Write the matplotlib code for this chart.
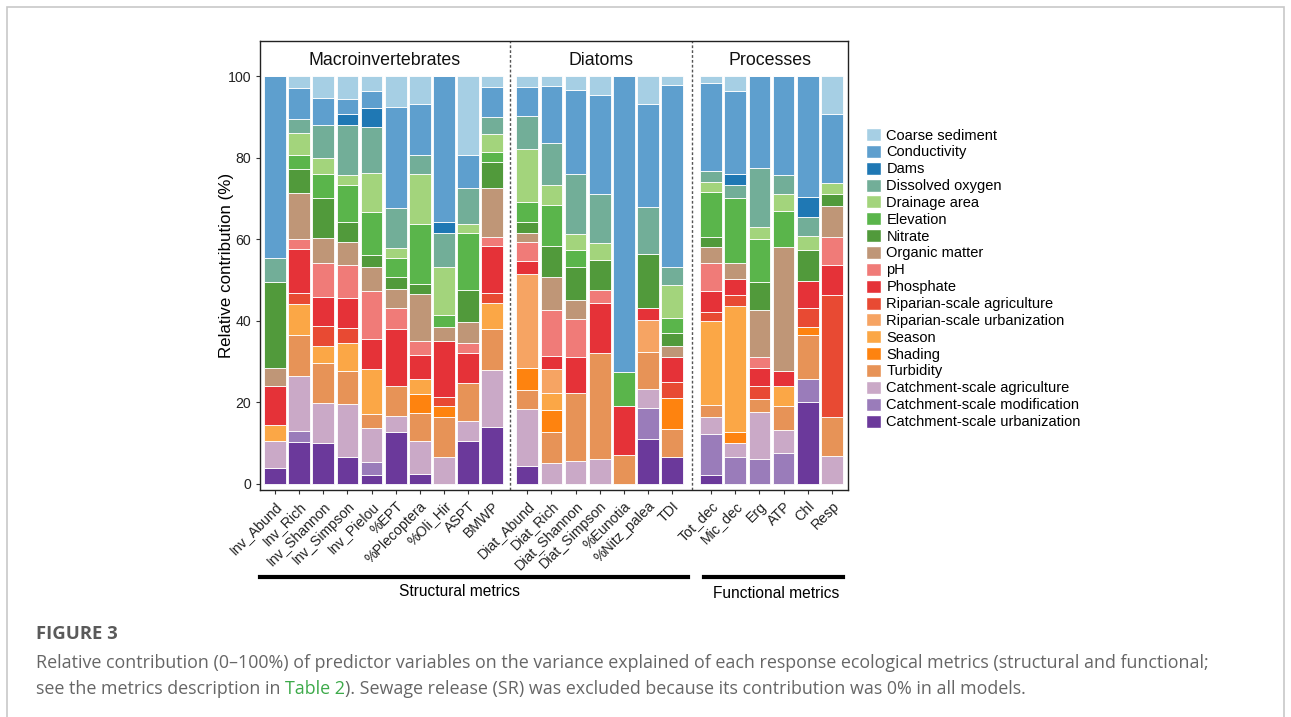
import numpy as np
import matplotlib
matplotlib.use("Agg")
import matplotlib.pyplot as plt
from matplotlib.patches import Patch, Rectangle
from matplotlib.lines import Line2D

plt.rcParams['font.family'] = ['Liberation Sans', 'DejaVu Sans']

# metrics (x categories)
inv_metrics = ["Inv_Abund", "Inv_Rich", "Inv_Shannon", "Inv_Simpson", "Inv_Pielou",
               "%EPT", "%Plecoptera", "%Oli_Hir", "ASPT", "BMWP"]
diat_metrics = ["Diat_Abund", "Diat_Rich", "Diat_Shannon", "Diat_Simpson",
                "%Eunotia", "%Nitz_palea", "TDI"]
proc_metrics = ["Tot_dec", "Mic_dec", "Erg", "ATP", "Chl", "Resp"]
groups = ["Macroinvertebrates", "Diatoms", "Processes"]

# relative contribution (%) of each predictor, stacked bottom -> top
catch_urban = [4.0, 10.2, 10.1, 6.5, 2.2, 12.6, 2.4, 0, 10.6, 13.9,
               4.4, 0, 0, 0, 0, 10.9, 6.7,
               2.2, 0, 0, 0, 20.2, 0]
catch_mod = [0, 2.8, 0, 0, 3.2, 0, 0, 0, 0, 0,
             0, 0, 0, 0, 0, 7.8, 0,
             10.1, 6.5, 6.0, 7.5, 5.5, 0]
catch_agri = [6.5, 13.5, 9.8, 13.0, 8.4, 4.1, 8.2, 6.7, 4.9, 14.0,
              13.9, 5.1, 5.5, 6.0, 0, 4.6, 0,
              4.0, 3.5, 11.6, 5.7, 0, 6.9]
turbidity = [0, 10.0, 9.8, 8.2, 3.4, 7.2, 6.9, 9.6, 9.3, 10.1,
             4.7, 7.5, 16.7, 26.2, 7.1, 9.0, 6.8,
             3.1, 0, 3.2, 5.9, 10.7, 9.4]
shading = [0, 0, 0, 0, 0, 0, 4.6, 2.9, 0, 0,
           5.5, 5.4, 0, 0, 0, 0, 7.5,
           0, 2.6, 0, 0, 2.1, 0]
season = [4.0, 7.5, 4.0, 6.9, 11.0, 0, 3.6, 0, 0, 6.3,
          0, 4.2, 0, 0, 0, 0, 0,
          20.6, 30.9, 0, 4.8, 0, 0]
rip_urban = [0, 0, 0, 0, 0, 0, 0, 0, 0, 0,
             23.0, 5.9, 0, 0, 0, 7.9, 0,
             0, 0, 0, 0, 0, 0]
rip_agri = [0, 2.9, 4.9, 3.7, 0, 0, 0, 2.0, 0, 2.6,
            0, 0, 0, 0, 0, 0, 3.9,
            2.2, 2.8, 3.1, 0, 4.6, 30.0]
phosphate = [9.6, 10.6, 7.2, 7.2, 7.3, 14.1, 5.8, 13.9, 7.2, 11.5,
             3.2, 3.3, 8.8, 12.2, 12.0, 2.9, 6.3,
             5.1, 3.9, 4.6, 3.8, 6.7, 7.4]
ph = [0, 2.5, 8.4, 8.1, 11.8, 5.2, 3.5, 0, 2.5, 2.1,
      4.5, 11.2, 9.4, 3.1, 0, 0, 0,
      6.8, 0, 2.5, 0, 0, 6.9]
organic = [4.4, 11.3, 6.2, 5.8, 6.0, 4.7, 11.5, 3.3, 5.3, 12.0,
           2.4, 8.1, 4.7, 0, 0, 0, 2.5,
           3.9, 3.9, 11.6, 30.3, 0, 7.5]
nitrate = [21.1, 6.0, 9.8, 4.8, 2.8, 2.8, 2.5, 0, 7.7, 6.5,
           2.5, 7.7, 8.2, 7.4, 0, 13.3, 3.2,
           2.6, 0, 6.8, 0, 7.6, 2.9]
elevation = [0, 3.4, 5.8, 9.1, 10.5, 4.8, 14.7, 3.0, 14.1, 2.4,
             4.9, 10.0, 4.1, 0, 8.4, 0, 3.7,
             10.9, 16.1, 10.6, 9.0, 0, 0]
drainage = [0, 5.4, 3.8, 2.4, 9.7, 2.3, 12.3, 11.9, 2.2, 4.4,
            13.2, 4.9, 3.9, 4.1, 0, 0, 8.2,
            2.6, 0, 2.9, 4.1, 3.4, 2.7]
oxygen = [5.9, 3.4, 8.2, 12.3, 11.1, 9.9, 4.6, 8.1, 8.7, 4.1,
          8.0, 10.2, 14.8, 12.2, 0, 11.6, 4.5,
          2.7, 3.1, 14.5, 4.6, 4.7, 0]
dams = [0, 0, 0, 2.8, 4.7, 0, 0, 2.7, 0, 0,
        0, 0, 0, 0, 0, 0, 0,
        0, 2.8, 0, 0, 4.9, 0]
conductivity = [44.5, 7.6, 6.7, 3.7, 4.3, 24.6, 12.5, 35.9, 8.1, 7.5,
                7.0, 14.0, 20.5, 24.1, 72.5, 25.1, 44.5,
                21.4, 20.2, 22.6, 24.3, 29.6, 17.0]
coarse = [0, 2.9, 5.3, 5.5, 3.6, 7.7, 6.9, 0, 19.4, 2.6,
          2.8, 2.5, 3.4, 4.7, 0, 6.9, 2.2,
          1.8, 3.7, 0, 0, 0, 9.3]

# stacking order (bottom first) with labels and colours
layers = [
    ("Catchment-scale urbanization", catch_urban, "#6b399b"),
    ("Catchment-scale modification", catch_mod, "#9a7cba"),
    ("Catchment-scale agriculture", catch_agri, "#caa9c7"),
    ("Turbidity", turbidity, "#e79357"),
    ("Shading", shading, "#fe830f"),
    ("Season", season, "#fba746"),
    ("Riparian-scale urbanization", rip_urban, "#f6a463"),
    ("Riparian-scale agriculture", rip_agri, "#e84a33"),
    ("Phosphate", phosphate, "#e53238"),
    ("pH", ph, "#f07b78"),
    ("Organic matter", organic, "#bf9677"),
    ("Nitrate", nitrate, "#519a3b"),
    ("Elevation", elevation, "#5ab54b"),
    ("Drainage area", drainage, "#a3d47c"),
    ("Dissolved oxygen", oxygen, "#72ae98"),
    ("Dams", dams, "#1f78b4"),
    ("Conductivity", conductivity, "#5e9fce"),
    ("Coarse sediment", coarse, "#a6cfe4"),
]

W, H = 1291, 717
fig = plt.figure(figsize=(W / 100, H / 100), dpi=100)

def fx(px):
    return px / W

def fy(py):
    return 1 - py / H

# page frame
fig.add_artist(Rectangle((fx(7), -0.1), fx(1277), fy(7) + 0.1, transform=fig.transFigure,
                         fill=False, edgecolor="#c8c8c8", lw=1.2))

ax = fig.add_axes([fx(260), fy(490), fx(848 - 260), fy(41) - fy(490)])

# x positions: groups separated by a small extra gap
pos_inv = np.arange(len(inv_metrics))
pos_dia = pos_inv[-1] + 1.45 + np.arange(len(diat_metrics))
pos_pro = pos_dia[-1] + 1.61 + np.arange(len(proc_metrics))
xpos = np.concatenate([pos_inv, pos_dia, pos_pro])
labels = inv_metrics + diat_metrics + proc_metrics

bottom = np.zeros(len(xpos))
for name, vals, col in layers:
    v = np.array(vals, dtype=float)
    ax.bar(xpos, v, bottom=bottom, width=0.9, color=col, edgecolor="white", lw=0.6)
    bottom += v

ax.set_xlim(-0.62, pos_pro[-1] + 0.67)
ax.set_ylim(-1.5, 108.6)

sep1 = (pos_inv[-1] + pos_dia[0]) / 2
sep2 = (pos_dia[-1] + pos_pro[0]) / 2
for s in (sep1, sep2):
    ax.axvline(s, color="#555555", lw=1.0, ls=(0, (2, 1.5)))

centers = [(ax.get_xlim()[0] + sep1) / 2, (sep1 + sep2) / 2, (sep2 + ax.get_xlim()[1]) / 2]
for c, g in zip(centers, groups):
    ax.text(c, 103.8, g, ha="center", va="center", fontsize=12.8, color="#111111")

ax.set_yticks([0, 20, 40, 60, 80, 100])
ax.tick_params(axis="y", labelsize=10.2, length=3, color="#333333", labelcolor="#222222")
ax.set_xticks(xpos)
ax.set_xticklabels(labels, rotation=45, ha="right", rotation_mode="anchor", fontsize=10.2,
                   color="#222222")
ax.tick_params(axis="x", length=3, color="#333333")
ax.set_ylabel("Relative contribution (%)", fontsize=12.2, labelpad=-5)
for sp in ax.spines.values():
    sp.set_color("#222222")
    sp.set_linewidth(1.0)

# legend, top entry first
handles = [Patch(facecolor=col, edgecolor="white", label=name) for name, _, col in layers[::-1]]
fig.legend(handles=handles, loc="upper left", bbox_to_anchor=(fx(866), fy(128)), frameon=False,
           fontsize=10.5, handlelength=1.05, handleheight=1.0, labelspacing=0.16,
           handletextpad=0.35, borderaxespad=0, borderpad=0)

# group bars under the axis
fig.add_artist(Line2D([fx(260), fx(688)], [fy(577), fy(577)], color="black", lw=3,
                      transform=fig.transFigure))
fig.add_artist(Line2D([fx(704), fx(843)], [fy(577), fy(577)], color="black", lw=3,
                      transform=fig.transFigure))
fig.text(fx(459), fy(592), "Structural metrics", ha="center", va="center", fontsize=11.2)
fig.text(fx(776), fy(593), "Functional metrics", ha="center", va="center", fontsize=11.2)

# caption
cap_font = ["Open Sans", "DejaVu Sans"]
cap_size = 12.9
cap_x = fx(36)
fig.text(cap_x, fy(634), "FIGURE 3", ha="left", va="center", fontsize=13.3, fontweight="bold",
         color="#5a5a5a", family=cap_font)
line1 = ("Relative contribution (0\u2013100%) of predictor variables on the variance explained of "
         "each response ecological metrics (structural and functional;")
fig.text(cap_x, fy(663), line1, ha="left", va="center", fontsize=cap_size, color="#666666",
         family=cap_font)
t1 = fig.text(cap_x, fy(689), "see the metrics description in ", ha="left", va="center",
              fontsize=cap_size, color="#666666", family=cap_font)
fig.canvas.draw()
bb = t1.get_window_extent()
t2 = fig.text(bb.x1 / W, fy(689), "Table 2", ha="left", va="center", fontsize=cap_size,
              color="#3daa4a", family=cap_font)
fig.canvas.draw()
bb2 = t2.get_window_extent()
fig.text(bb2.x1 / W, fy(689), "). Sewage release (SR) was excluded because its contribution "
         "was 0% in all models.", ha="left", va="center", fontsize=cap_size, color="#666666",
         family=cap_font)

fig.savefig("out.png", dpi=100)
